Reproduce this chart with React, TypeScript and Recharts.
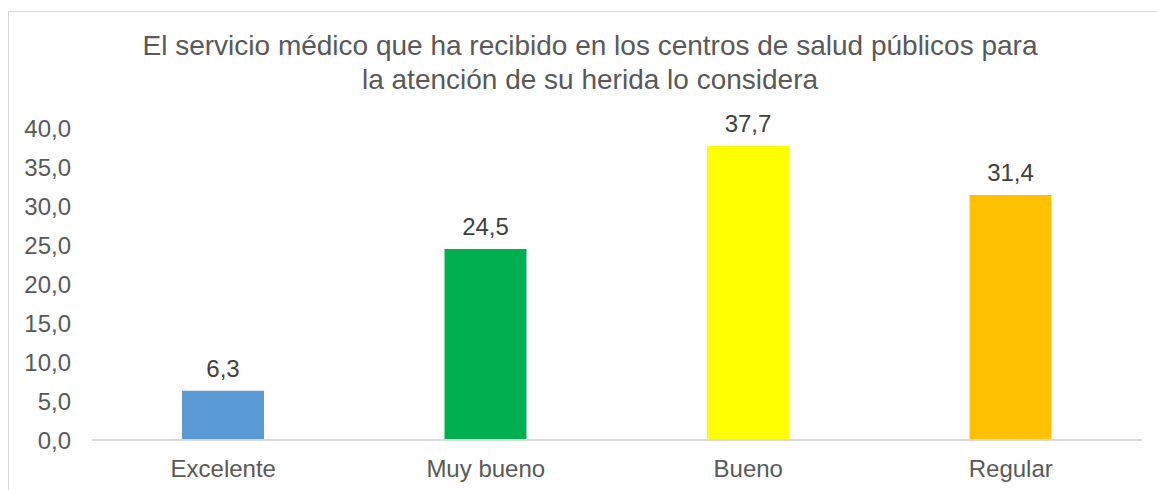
import { BarChart, Bar, XAxis, YAxis, Cell, LabelList } from 'recharts'

const CATEGORIES = ['Excelente', 'Muy bueno', 'Bueno', 'Regular']
const VALUES = [6.3, 24.5, 37.7, 31.4]
const Y_TICKS = [0, 5, 10, 15, 20, 25, 30, 35, 40]
const TITLE_LINES = [
  'El servicio médico que ha recibido en los centros de salud públicos para',
  'la atención de su herida lo considera',
]

const BAR_COLORS = ['#5B9BD5', '#00B050', '#FFFF00', '#FFC000']
const FONT = '"Liberation Sans", Arial, sans-serif'

const fmt = (v: number) => Number(v).toFixed(1).replace('.', ',')

export default function App() {
  const data = CATEGORIES.map((name, i) => ({ name, value: VALUES[i] }))

  return (
    <div
      style={{
        position: 'absolute',
        left: 0,
        top: 0,
        width: 1157,
        height: 490,
        overflow: 'hidden',
        background: '#fff',
        fontFamily: FONT,
      }}
    >
      {/* chart frame, only top and left edges are visible */}
      <div
        style={{
          position: 'absolute',
          left: 8,
          top: 11,
          width: 1200,
          height: 600,
          borderTop: '1px solid #d9d9d9',
          borderLeft: '1px solid #d9d9d9',
        }}
      />
      <div
        style={{
          position: 'absolute',
          left: 0,
          width: 1180,
          top: 29,
          textAlign: 'center',
          color: '#595959',
          fontSize: 28,
          lineHeight: '34px',
        }}
      >
        {TITLE_LINES.map((t) => (
          <div key={t}>{t}</div>
        ))}
      </div>
      <div style={{ position: 'absolute', left: 0, top: 0 }}>
        <BarChart
          width={1157}
          height={490}
          data={data}
          margin={{ top: 128, right: 15, left: 0, bottom: 0 }}
          style={{ fontFamily: FONT }}
        >
          <XAxis
            dataKey="name"
            height={50}
            axisLine={{ stroke: '#d9d9d9', strokeWidth: 2 }}
            tickLine={false}
            tickSize={0}
            tickMargin={20}
            tick={{ fill: '#595959', fontSize: 24 }}
            interval={0}
          />
          <YAxis
            width={92}
            domain={[0, 40]}
            ticks={Y_TICKS}
            axisLine={false}
            tickLine={false}
            tickSize={0}
            tickMargin={21}
            tickFormatter={fmt}
            tick={{ fill: '#595959', fontSize: 24 }}
          />
          <Bar dataKey="value" barSize={82} isAnimationActive={false}>
            {data.map((d, i) => (
              <Cell key={d.name} fill={BAR_COLORS[i]} />
            ))}
            <LabelList
              dataKey="value"
              position="top"
              offset={14}
              formatter={(v: any) => fmt(v)}
              fill="#404040"
              fontSize={24}
            />
          </Bar>
        </BarChart>
      </div>
    </div>
  )
}
